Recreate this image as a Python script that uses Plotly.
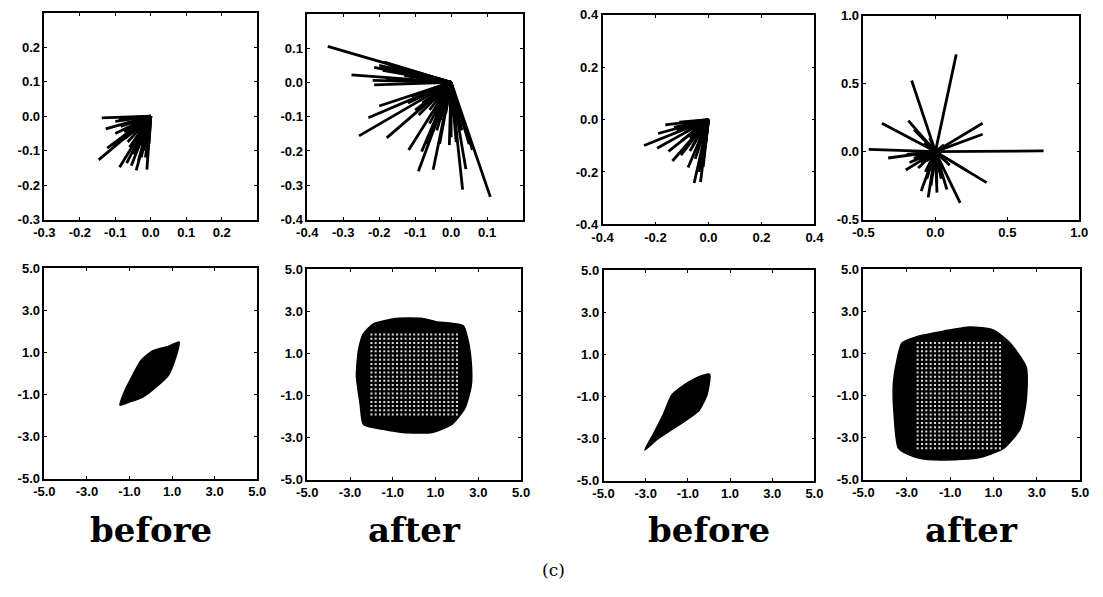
import plotly.graph_objects as go

W, H = 1103, 597

# ---------------- data ----------------
# Top row: fans of line segments from the origin to these end points
p1_end_x = [-0.138, -0.127, -0.100, -0.147, -0.123, -0.109, -0.088, -0.068, -0.055, -0.041,
            -0.011, -0.027, -0.073, -0.085, -0.060, -0.050, -0.035, -0.020, -0.100, -0.080,
            -0.060, -0.045, -0.015, -0.005, -0.070, -0.040, -0.030, -0.055, -0.065, -0.045,
            -0.025, -0.010, -0.050, -0.030, -0.090, -0.075]
p1_end_y = [-0.005, -0.037, -0.015, -0.127, -0.093, -0.083, -0.148, -0.136, -0.144, -0.157,
            -0.155, -0.120, -0.065, -0.030, -0.090, -0.110, -0.130, -0.100, -0.050, -0.060,
            -0.020, -0.070, -0.120, -0.080, -0.005, -0.040, -0.060, -0.050, -0.075, -0.095,
            -0.085, -0.110, -0.020, -0.030, -0.010, -0.045]

p2_end_x = [-0.343, -0.277, -0.214, -0.186, -0.200, -0.190, -0.170, -0.218, -0.214, -0.180,
            -0.155, -0.200, -0.230, -0.256, -0.179, -0.118, -0.091, -0.082, -0.070, -0.050,
            -0.032, -0.005, 0.000, 0.014, 0.032, 0.041, 0.059, 0.050, 0.109, -0.100,
            -0.090, -0.120, -0.060, -0.040, 0.020, -0.150, -0.130, -0.195, -0.175, -0.160,
            -0.140, -0.060, -0.045, -0.030, -0.015, 0.005, 0.030, -0.080, -0.110]
p2_end_y = [0.105, 0.022, 0.044, 0.059, 0.050, 0.035, 0.040, 0.006, -0.007, 0.010,
            0.006, -0.069, -0.103, -0.156, -0.162, -0.197, -0.259, -0.202, -0.180, -0.255,
            -0.179, -0.183, -0.160, -0.174, -0.313, -0.253, -0.197, -0.180, -0.334, -0.081,
            -0.095, -0.060, -0.120, -0.140, -0.120, 0.030, 0.020, 0.045, 0.052, 0.040,
            0.030, -0.080, -0.100, -0.110, -0.090, -0.100, -0.140, -0.060, -0.040]

p3_end_x = [-0.243, -0.194, -0.190, -0.163, -0.151, -0.136, -0.104, -0.077, -0.054, -0.030,
            -0.120, -0.100, -0.070, -0.050, -0.035, -0.020, -0.110, -0.080, -0.060, -0.040,
            -0.015, -0.090, -0.070, -0.045, -0.030, -0.010, -0.130, -0.100, -0.060, -0.040]
p3_end_y = [-0.099, -0.109, -0.053, -0.020, -0.121, -0.158, -0.136, -0.183, -0.242, -0.238,
            -0.040, -0.080, -0.120, -0.150, -0.200, -0.180, -0.010, -0.030, -0.100, -0.070,
            -0.120, -0.050, -0.070, -0.110, -0.150, -0.090, -0.030, -0.020, -0.040, -0.030]

p4_end_x = [0.145, -0.165, -0.372, -0.188, -0.149, -0.120, -0.463, 0.752, 0.328, 0.328,
            0.356, 0.172, -0.050, -0.099, 0.011, 0.080, -0.328, -0.206, 0.218, -0.200,
            -0.150, -0.100, -0.060, -0.030, 0.040, 0.100, 0.060, -0.080, -0.040, 0.020,
            -0.120, -0.180, -0.140, -0.110, -0.070, -0.050, -0.020, 0.030, 0.060, -0.090,
            -0.030, 0.010, 0.050, -0.060]
p4_end_y = [0.716, 0.523, 0.209, 0.228, 0.163, 0.140, 0.016, 0.005, 0.209, 0.128,
            -0.228, -0.377, -0.337, -0.291, -0.302, -0.279, -0.047, -0.135, -0.140, -0.020,
            -0.050, -0.080, -0.200, -0.250, -0.200, -0.100, 0.050, 0.060, 0.100, -0.120,
            -0.120, -0.080, -0.030, -0.060, -0.150, -0.120, -0.180, -0.150, -0.060, -0.020,
            -0.100, -0.230, -0.130, -0.070]

# Bottom row: outlines of the point clouds
p5_x = [-1.45, -1.22, -0.84, -0.46, 0.08, 0.84, 1.33, 1.15, 0.84, 0.31, -0.38, -0.99, -1.45]
p5_y = [-1.50, -0.82, -0.06, 0.62, 1.08, 1.30, 1.50, 0.70, -0.06, -0.59, -1.12, -1.35, -1.50]

p6_x = [-2.37, -1.91, -0.84, 0.38, 1.00, 2.29, 2.52, 2.67, 2.67, 2.37, 1.76, 0.84, -0.53,
        -1.45, -2.37, -2.52, -2.70, -2.60, -2.37]
p6_y = [1.94, 2.40, 2.66, 2.66, 2.51, 2.32, 1.63, 0.55, -0.52, -1.60, -2.37, -2.75, -2.75,
        -2.60, -2.37, -1.45, -0.06, 1.17, 1.94]
p6_grid_x = [-2.0, -1.8, -1.6, -1.4, -1.2, -1.0, -0.8, -0.6, -0.4, -0.2, 0.0,
             0.2, 0.4, 0.6, 0.8, 1.0, 1.2, 1.4, 1.6, 1.8, 2.0]
p6_grid_y = [-1.9, -1.7, -1.5, -1.3, -1.1, -0.9, -0.7, -0.5, -0.3, -0.1,
             0.1, 0.3, 0.5, 0.7, 0.9, 1.1, 1.3, 1.5, 1.7, 1.9]

p7_x = [-3.04, -2.61, -2.15, -1.77, -1.39, -0.93, -0.47, 0.03, -0.09, -0.47, -1.08, -2.00,
        -2.46, -3.04]
p7_y = [-3.54, -2.73, -1.82, -0.93, -0.60, -0.29, -0.06, 0.06, -0.90, -1.66, -2.12, -2.73,
        -3.04, -3.54]

p8_x = [-3.23, -2.54, -1.31, -0.08, 1.00, 1.77, 2.51, 2.51, 2.23, 1.46, 0.23, -1.77, -2.69,
        -3.38, -3.58, -3.62, -3.46, -3.23]
p8_y = [1.49, 1.80, 2.06, 2.26, 2.11, 1.49, 0.34, -1.20, -2.58, -3.51, -3.97, -4.05, -3.89,
        -3.51, -1.97, -0.43, 0.65, 1.49]
p8_grid_x = [-2.5, -2.3, -2.1, -1.9, -1.7, -1.5, -1.3, -1.1, -0.9, -0.7, -0.5, -0.3, -0.1,
             0.1, 0.3, 0.5, 0.7, 0.9, 1.1, 1.3]
p8_grid_y = [-3.5, -3.3, -3.1, -2.9, -2.7, -2.5, -2.3, -2.1, -1.9, -1.7, -1.5, -1.3, -1.1,
             -0.9, -0.7, -0.5, -0.3, -0.1, 0.1, 0.3, 0.5, 0.7, 0.9, 1.1, 1.3, 1.5]

# Axis ranges and tick labels
p1_range = [-0.3, 0.3]; p1_xticks = [-0.3, -0.2, -0.1, 0.0, 0.1, 0.2]; p1_yticks = [-0.3, -0.2, -0.1, 0.0, 0.1, 0.2]
p2_range = [-0.4, 0.2]; p2_xticks = [-0.4, -0.3, -0.2, -0.1, 0.0, 0.1]; p2_yticks = [-0.4, -0.3, -0.2, -0.1, 0.0, 0.1]
p3_range = [-0.4, 0.4]; p3_xticks = [-0.4, -0.2, 0.0, 0.2, 0.4]; p3_yticks = [-0.4, -0.2, 0.0, 0.2, 0.4]
p4_range = [-0.5, 1.0]; p4_xticks = [-0.5, 0.0, 0.5, 1.0]; p4_yticks = [-0.5, 0.0, 0.5, 1.0]
bot_range = [-5.0, 5.0]; bot_ticks = [-5.0, -3.0, -1.0, 1.0, 3.0, 5.0]

captions = ["before", "after", "before", "after"]
figure_label = "(c)"

# ---------------- layout helpers ----------------
# panel frames in pixels: (left, right, top, bottom)
frames = [
    (34, 251, 6, 218), (302, 522, 7, 218), (603, 819, 8, 223), (869, 1089, 9, 218),
    (34, 251, 268, 484), (302, 520, 269, 485), (604, 819, 270, 486), (869, 1090, 269, 485),
]
ranges = [p1_range, p2_range, p3_range, p4_range, bot_range, bot_range, bot_range, bot_range]
xticks = [p1_xticks, p2_xticks, p3_xticks, p4_xticks, bot_ticks, bot_ticks, bot_ticks, bot_ticks]
yticks = [p1_yticks, p2_yticks, p3_yticks, p4_yticks, bot_ticks, bot_ticks, bot_ticks, bot_ticks]

fig = go.Figure()
tickfont = dict(family="Liberation Sans, Arial, sans-serif", size=13, color="black")

layout = {}
for i, (l, r, t, b) in enumerate(frames):
    n = "" if i == 0 else str(i + 1)
    common = dict(range=ranges[i], showline=True, mirror="ticks", linecolor="black", linewidth=1.5,
                  ticks="inside", ticklen=3, tickwidth=1, tickcolor="black", showgrid=False,
                  zeroline=False, fixedrange=True, tickfont=tickfont)
    layout["xaxis" + n] = dict(domain=[l / W, r / W], anchor="y" + n,
                               tickvals=xticks[i], ticktext=[f"<b>{v:.1f}</b>" for v in xticks[i]], **common)
    layout["yaxis" + n] = dict(domain=[1 - b / H, 1 - t / H], anchor="x" + n,
                               tickvals=yticks[i], ticktext=[f"<b>{v:.1f}</b>" for v in yticks[i]], **common)


def fan(ex, ey):
    xs, ys = [], []
    for x, y in zip(ex, ey):
        xs += [0, x, None]
        ys += [0, y, None]
    return xs, ys


fans = [(p1_end_x, p1_end_y), (p2_end_x, p2_end_y), (p3_end_x, p3_end_y), (p4_end_x, p4_end_y)]
for i, (ex, ey) in enumerate(fans):
    n = "" if i == 0 else str(i + 1)
    xs, ys = fan(ex, ey)
    fig.add_trace(go.Scatter(x=xs, y=ys, mode="lines", line=dict(color="black", width=2.8),
                             xaxis="x" + n, yaxis="y" + n, showlegend=False, hoverinfo="skip"))

shapes_bot = [(p5_x, p5_y, None, None), (p6_x, p6_y, p6_grid_x, p6_grid_y),
              (p7_x, p7_y, None, None), (p8_x, p8_y, p8_grid_x, p8_grid_y)]
for j, (sx, sy, gx, gy) in enumerate(shapes_bot):
    n = str(j + 5)
    fig.add_trace(go.Scatter(x=sx, y=sy, mode="lines", fill="toself", fillcolor="black",
                             line=dict(color="black", width=1.5, shape="spline", smoothing=0.6),
                             xaxis="x" + n, yaxis="y" + n, showlegend=False, hoverinfo="skip"))
    if gx is not None:
        mx = [x for x in gx for _ in gy]
        my = [y for _ in gx for y in gy]
        fig.add_trace(go.Scatter(x=mx, y=my, mode="markers",
                                 marker=dict(symbol="square", size=2.0, color="white", opacity=0.85,
                                             line=dict(width=0)),
                                 xaxis="x" + n, yaxis="y" + n, showlegend=False, hoverinfo="skip"))

annotations = []
for k, txt in enumerate(captions):
    l, r, t, b = frames[k + 4]
    annotations.append(dict(text=txt, x=(l + r) / 2 / W, y=1 - 536 / H, xref="paper", yref="paper",
                            xanchor="center", yanchor="middle", showarrow=False,
                            font=dict(family="DejaVu Serif, serif", size=34, color="black", weight="bold")))
annotations.append(dict(text=figure_label, x=553 / W, y=1 - 578 / H, xref="paper", yref="paper",
                        xanchor="center", yanchor="middle", showarrow=False,
                        font=dict(family="DejaVu Serif, serif", size=17, color="black")))

fig.update_layout(width=W, height=H, margin=dict(l=0, r=0, t=0, b=0),
                  paper_bgcolor="white", plot_bgcolor="white",
                  annotations=annotations, **layout)

fig.write_html("out.html")
